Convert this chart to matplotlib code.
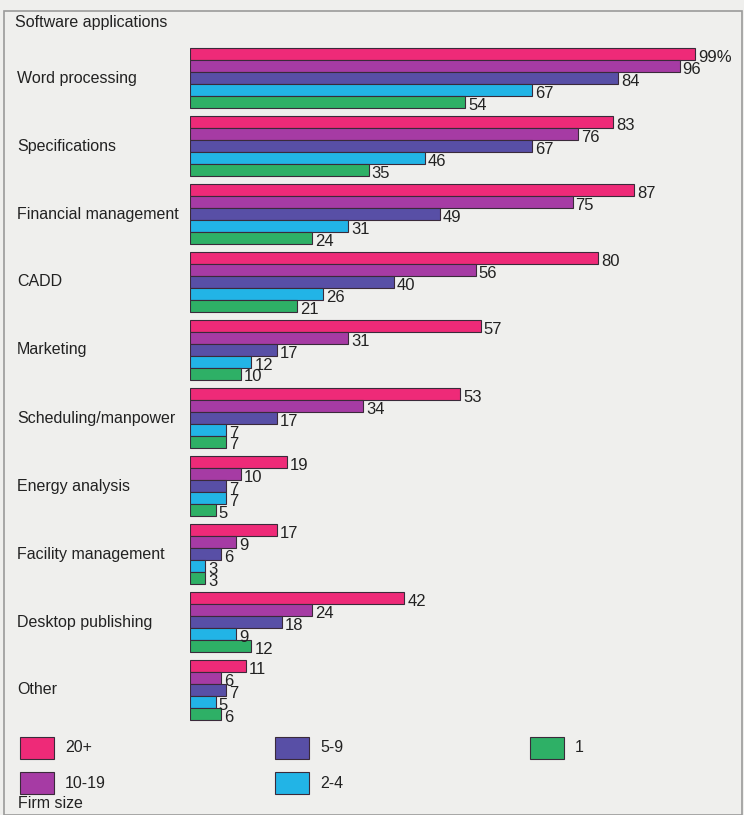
import matplotlib
matplotlib.use("Agg")
import matplotlib.pyplot as plt
from matplotlib.patches import Rectangle

categories = ["Word processing", "Specifications", "Financial management", "CADD",
              "Marketing", "Scheduling/manpower", "Energy analysis",
              "Facility management", "Desktop publishing", "Other"]
series_names = ["20+", "10-19", "5-9", "2-4", "1"]
v_20plus = [99, 83, 87, 80, 57, 53, 19, 17, 42, 11]
v_10_19 = [96, 76, 75, 56, 31, 34, 10, 9, 24, 6]
v_5_9 = [84, 67, 49, 40, 17, 17, 7, 6, 18, 7]
v_2_4 = [67, 46, 31, 26, 12, 7, 7, 3, 9, 5]
v_1 = [54, 35, 24, 21, 10, 7, 5, 3, 12, 6]
series_values = [v_20plus, v_10_19, v_5_9, v_2_4, v_1]
colors = ["#EE2A78", "#A63BA4", "#584FA6", "#22B4E6", "#2EB066"]

plt.rcParams['font.family'] = ['Liberation Sans', 'DejaVu Sans']

W, H = 744, 815
fig = plt.figure(figsize=(W / 100, H / 100), dpi=100)
fig.patch.set_facecolor("#EFEFED")

# border box
fig.add_artist(Rectangle((4 / W, 0), (W - 6) / W, (H - 11) / H, transform=fig.transFigure,
                         fill=False, edgecolor="#9a9a9a", linewidth=1.2))

# axes in pixel-mapped coordinates
ax_left, ax_right = 190, 742
ax_top, ax_bot = 40, 725
ax = fig.add_axes([ax_left / W, 1 - ax_bot / H, (ax_right - ax_left) / W, (ax_bot - ax_top) / H])
ax.set_facecolor("none")
px_per_unit = 5.1
ax.set_xlim(0, (ax_right - ax_left) / px_per_unit)
grp = 68.0
y0 = 78.0
ax.set_ylim((ax_bot - y0) / grp, (ax_top - y0) / grp)
for s in ax.spines.values():
    s.set_visible(False)
ax.set_xticks([])
ax.set_yticks([])

bh = 12 / grp
offsets = [-2, -1, 0, 1, 2]
for si, (vals, col) in enumerate(zip(series_values, colors)):
    ys = [i + offsets[si] * bh for i in range(len(categories))]
    ax.barh(ys, vals, height=bh, color=col, edgecolor="#3a2a3a", linewidth=0.8)
    for i, (y, v) in enumerate(zip(ys, vals)):
        lab = f"{v}%" if (si == 0 and i == 0) else f"{v}"
        ax.text(v + 0.6, y + 3 / grp, lab, va="center", ha="left", fontsize=12, color="#222222")

for i, c in enumerate(categories):
    fig.text(17 / W, 1 - (y0 + grp * i) / H, c, fontsize=11.5, va="center", ha="left", color="#222222")

fig.text(15 / W, 1 - 22 / H, "Software applications", fontsize=11.5, va="center", ha="left", color="#222222")

# legend
leg_pos = [(20, 748), (20, 783), (275, 748), (275, 783), (530, 748)]
for (lx, ly), name, col in zip(leg_pos, series_names, colors):
    fig.add_artist(Rectangle((lx / W, 1 - (ly + 11) / H), 34 / W, 22 / H, transform=fig.transFigure,
                             facecolor=col, edgecolor="#3a2a3a", linewidth=0.8))
    fig.text((lx + 45) / W, 1 - ly / H, name, fontsize=11.5, va="center", ha="left", color="#222222")
fig.text(18 / W, 1 - 803 / H, "Firm size", fontsize=11.5, va="center", ha="left", color="#222222")

fig.savefig("out.png", dpi=100, facecolor=fig.get_facecolor())
